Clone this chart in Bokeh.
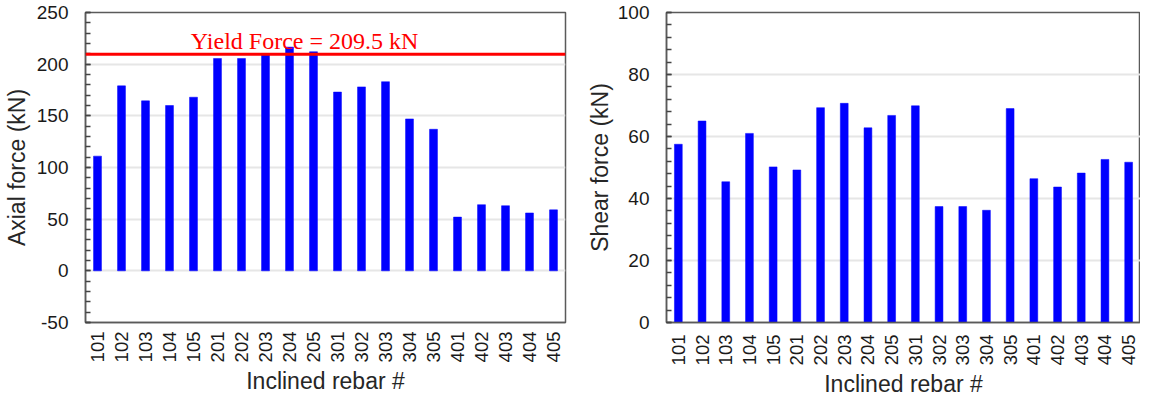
import math
from bokeh.plotting import figure
from bokeh.layouts import row
from bokeh.models import SingleIntervalTicker, Span, Label, ColumnDataSource
from bokeh.embed import file_html
from bokeh.resources import INLINE

rebars = ["101", "102", "103", "104", "105",
          "201", "202", "203", "204", "205",
          "301", "302", "303", "304", "305",
          "401", "402", "403", "404", "405"]
axial_kN = [111, 179, 164.5, 160, 168,
            205.5, 205.5, 209, 216.5, 212,
            173, 178, 183, 147, 137,
            52, 64, 63, 56, 59]
shear_kN = [57.5, 65, 45.4, 61, 50.2,
            49.2, 69.3, 70.7, 62.8, 66.8,
            69.9, 37.4, 37.4, 36.2, 69,
            46.4, 43.7, 48.2, 52.6, 51.7]
yield_force = 209.5
yield_text = "Yield Force = 209.5 kN"
x_title = "Inclined rebar #"

FONT = "Liberation Sans"
BLUE = "#0000FF"


def make_fig(values, y_range, interval, ylabel, width, height, borders):
    src = ColumnDataSource(dict(x=rebars, y=values))
    p = figure(x_range=rebars, y_range=y_range, width=width, height=height,
               output_backend="svg", toolbar_location=None,
               min_border_left=borders[0], min_border_right=borders[1],
               min_border_top=borders[2], min_border_bottom=borders[3])
    p.vbar(x="x", top="y", bottom=0, width=0.33, source=src,
           fill_color=BLUE, line_color=BLUE, line_width=0.5)
    p.outline_line_color = "#5a5a5a"
    p.outline_line_width = 1.5
    p.background_fill_color = "white"
    p.border_fill_color = "white"
    p.xgrid.visible = False
    p.ygrid.grid_line_color = "#e6e6e6"
    p.ygrid.grid_line_width = 2

    ya = p.yaxis[0]
    ya.ticker = SingleIntervalTicker(interval=interval, num_minor_ticks=5)
    ya.major_label_overrides = {-50: "-50"}
    ya.major_tick_in = 5
    ya.major_tick_out = 0
    ya.minor_tick_in = 5
    ya.minor_tick_out = 0
    ya.major_tick_line_color = "#444444"
    ya.minor_tick_line_color = "#444444"
    ya.major_tick_line_width = 1.5
    ya.minor_tick_line_width = 1.5
    ya.axis_line_color = "#5a5a5a"
    ya.axis_line_width = 1.5
    ya.major_label_text_font = FONT
    ya.major_label_text_font_size = "19px"
    ya.major_label_text_color = "#1a1a1a"
    ya.major_label_standoff = 17
    ya.axis_label = ylabel
    ya.axis_label_text_font = FONT
    ya.axis_label_text_font_size = "23px"
    ya.axis_label_text_font_style = "normal"
    ya.axis_label_text_color = "#262626"
    ya.axis_label_standoff = 4

    xa = p.xaxis[0]
    xa.major_tick_in = 0
    xa.major_tick_out = 0
    xa.minor_tick_in = 0
    xa.minor_tick_out = 0
    xa.axis_line_color = "#5a5a5a"
    xa.axis_line_width = 1.5
    xa.major_label_orientation = math.pi / 2
    xa.major_label_text_font = FONT
    xa.major_label_text_font_size = "18.5px"
    xa.major_label_text_color = "#1a1a1a"
    xa.major_label_standoff = 9
    xa.axis_label = x_title
    xa.axis_label_text_font = FONT
    xa.axis_label_text_font_size = "23px"
    xa.axis_label_text_font_style = "normal"
    xa.axis_label_text_color = "#262626"
    xa.axis_label_standoff = 3
    return p


p1 = make_fig(axial_kN, (-50, 250), 50, "Axial force (kN)", 580, 400,
              (79, 15, 8, 5))
p1.add_layout(Span(location=yield_force, dimension="width", line_color="#FF0000", line_width=3))
p1.add_layout(Label(x=9.13, y=222, text=yield_text, text_align="center",
                    text_baseline="alphabetic", text_color="#FF0000",
                    text_font="Liberation Serif", text_font_size="24px"))

p2 = make_fig(shear_kN, (0, 100), 20, "Shear force (kN)", 560, 400,
              (86, 0, 12, 5))
p2.yaxis[0].axis_label_standoff = 2
p2.xaxis[0].major_label_standoff = 12

layout = row(p1, p2)
open("out.html", "w").write(file_html(layout, INLINE))
